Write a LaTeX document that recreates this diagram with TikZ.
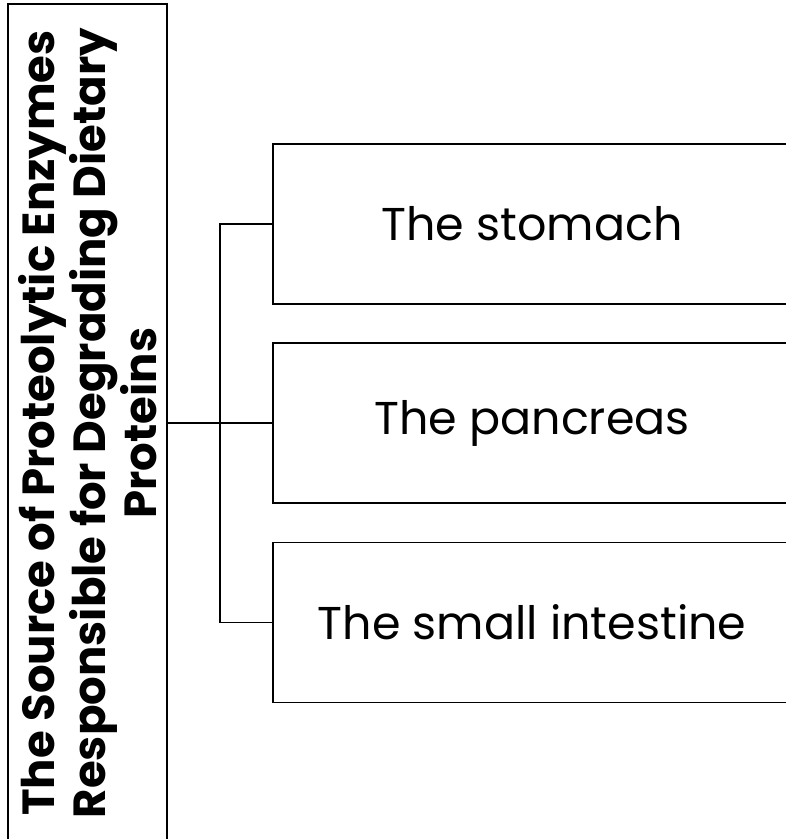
\documentclass[tikz,border=0pt]{standalone}
\usepackage{fontspec}
\setmainfont{Poppins}
\begin{document}
\begin{tikzpicture}[x=1pt,y=-1pt,
  boxline/.style={draw=black,line width=1.6pt},
  leafbox/.style={boxline,minimum width=520pt,minimum height=160pt,anchor=west,inner sep=0pt},
  leaftext/.style={font=\fontsize{46}{52}\selectfont},
  srctext/.style={font=\fontsize{45}{51}\bfseries\selectfont,align=center,rotate=90,inner sep=0pt},
  conn/.style={draw=black,line width=1.6pt}]
\useasboundingbox (0,0) rectangle (786,839);
\clip (0,0) rectangle (786,839);
\node[boxline,minimum width=159pt,minimum height=838pt,inner sep=0pt] (src) at (87.5,423) {};
\node[srctext] (srclbl) at (src.center) {The Source of Proteolytic Enzymes\\Responsible for Degrading Dietary\\Proteins};
\node[leafbox] (b1) at (272,224) {};
\node[leafbox] (b2) at (272,423) {};
\node[leafbox] (b3) at (272,622.5) {};
\node[leaftext] (t1) at (532,224) {The stomach};
\node[leaftext] (t2) at (532,423) {The pancreas};
\node[leaftext] (t3) at (532,622.5) {The small intestine};
\coordinate (j) at (220,423);
\draw[conn] (src.east) -- (j);
\draw[conn] (b1.west) -| (j) |- (b3.west);
\draw[conn] (j) -- (b2.west);
\end{tikzpicture}
\end{document}
